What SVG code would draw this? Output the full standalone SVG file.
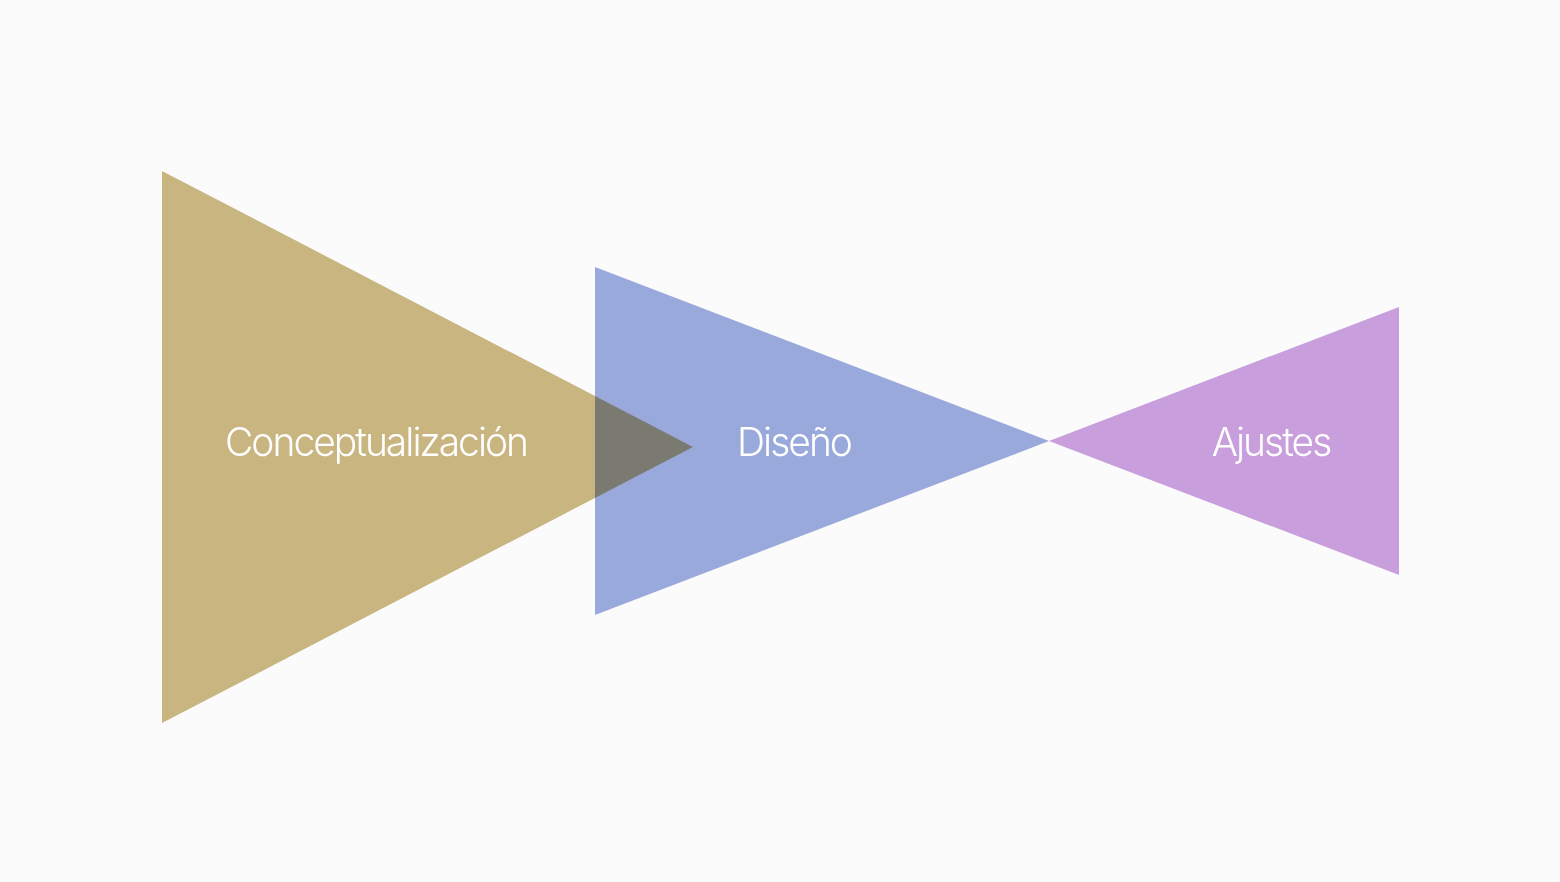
<svg xmlns="http://www.w3.org/2000/svg" width="1560" height="882" viewBox="0 0 1560 882">
<style>
.lbl{font-family:Inter,"Noto Sans",sans-serif;font-size:39px;font-weight:300;fill:#FFFFFF;text-anchor:middle;letter-spacing:-2px}
</style>
<rect width="1560" height="882" fill="#FBFBFB"/>
<g id="diseno">
<polygon points="595,267 1049,441 595,615" fill="#9AA9DC"/>
</g>
<g id="ajustes">
<polygon points="1049,441 1399,307 1399,575" fill="#C89EDC"/>
</g>
<g id="conceptualizacion">
<polygon points="162,171 693,447 162,723" fill="#CBB882" style="mix-blend-mode:multiply"/>
</g>
<g id="labels">
<text class="lbl" x="376" y="456">Conceptualización</text>
<text class="lbl" x="794" y="456">Diseño</text>
<text class="lbl" x="1271" y="456">Ajustes</text>
</g>
<g id="connectors"/>
</svg>
